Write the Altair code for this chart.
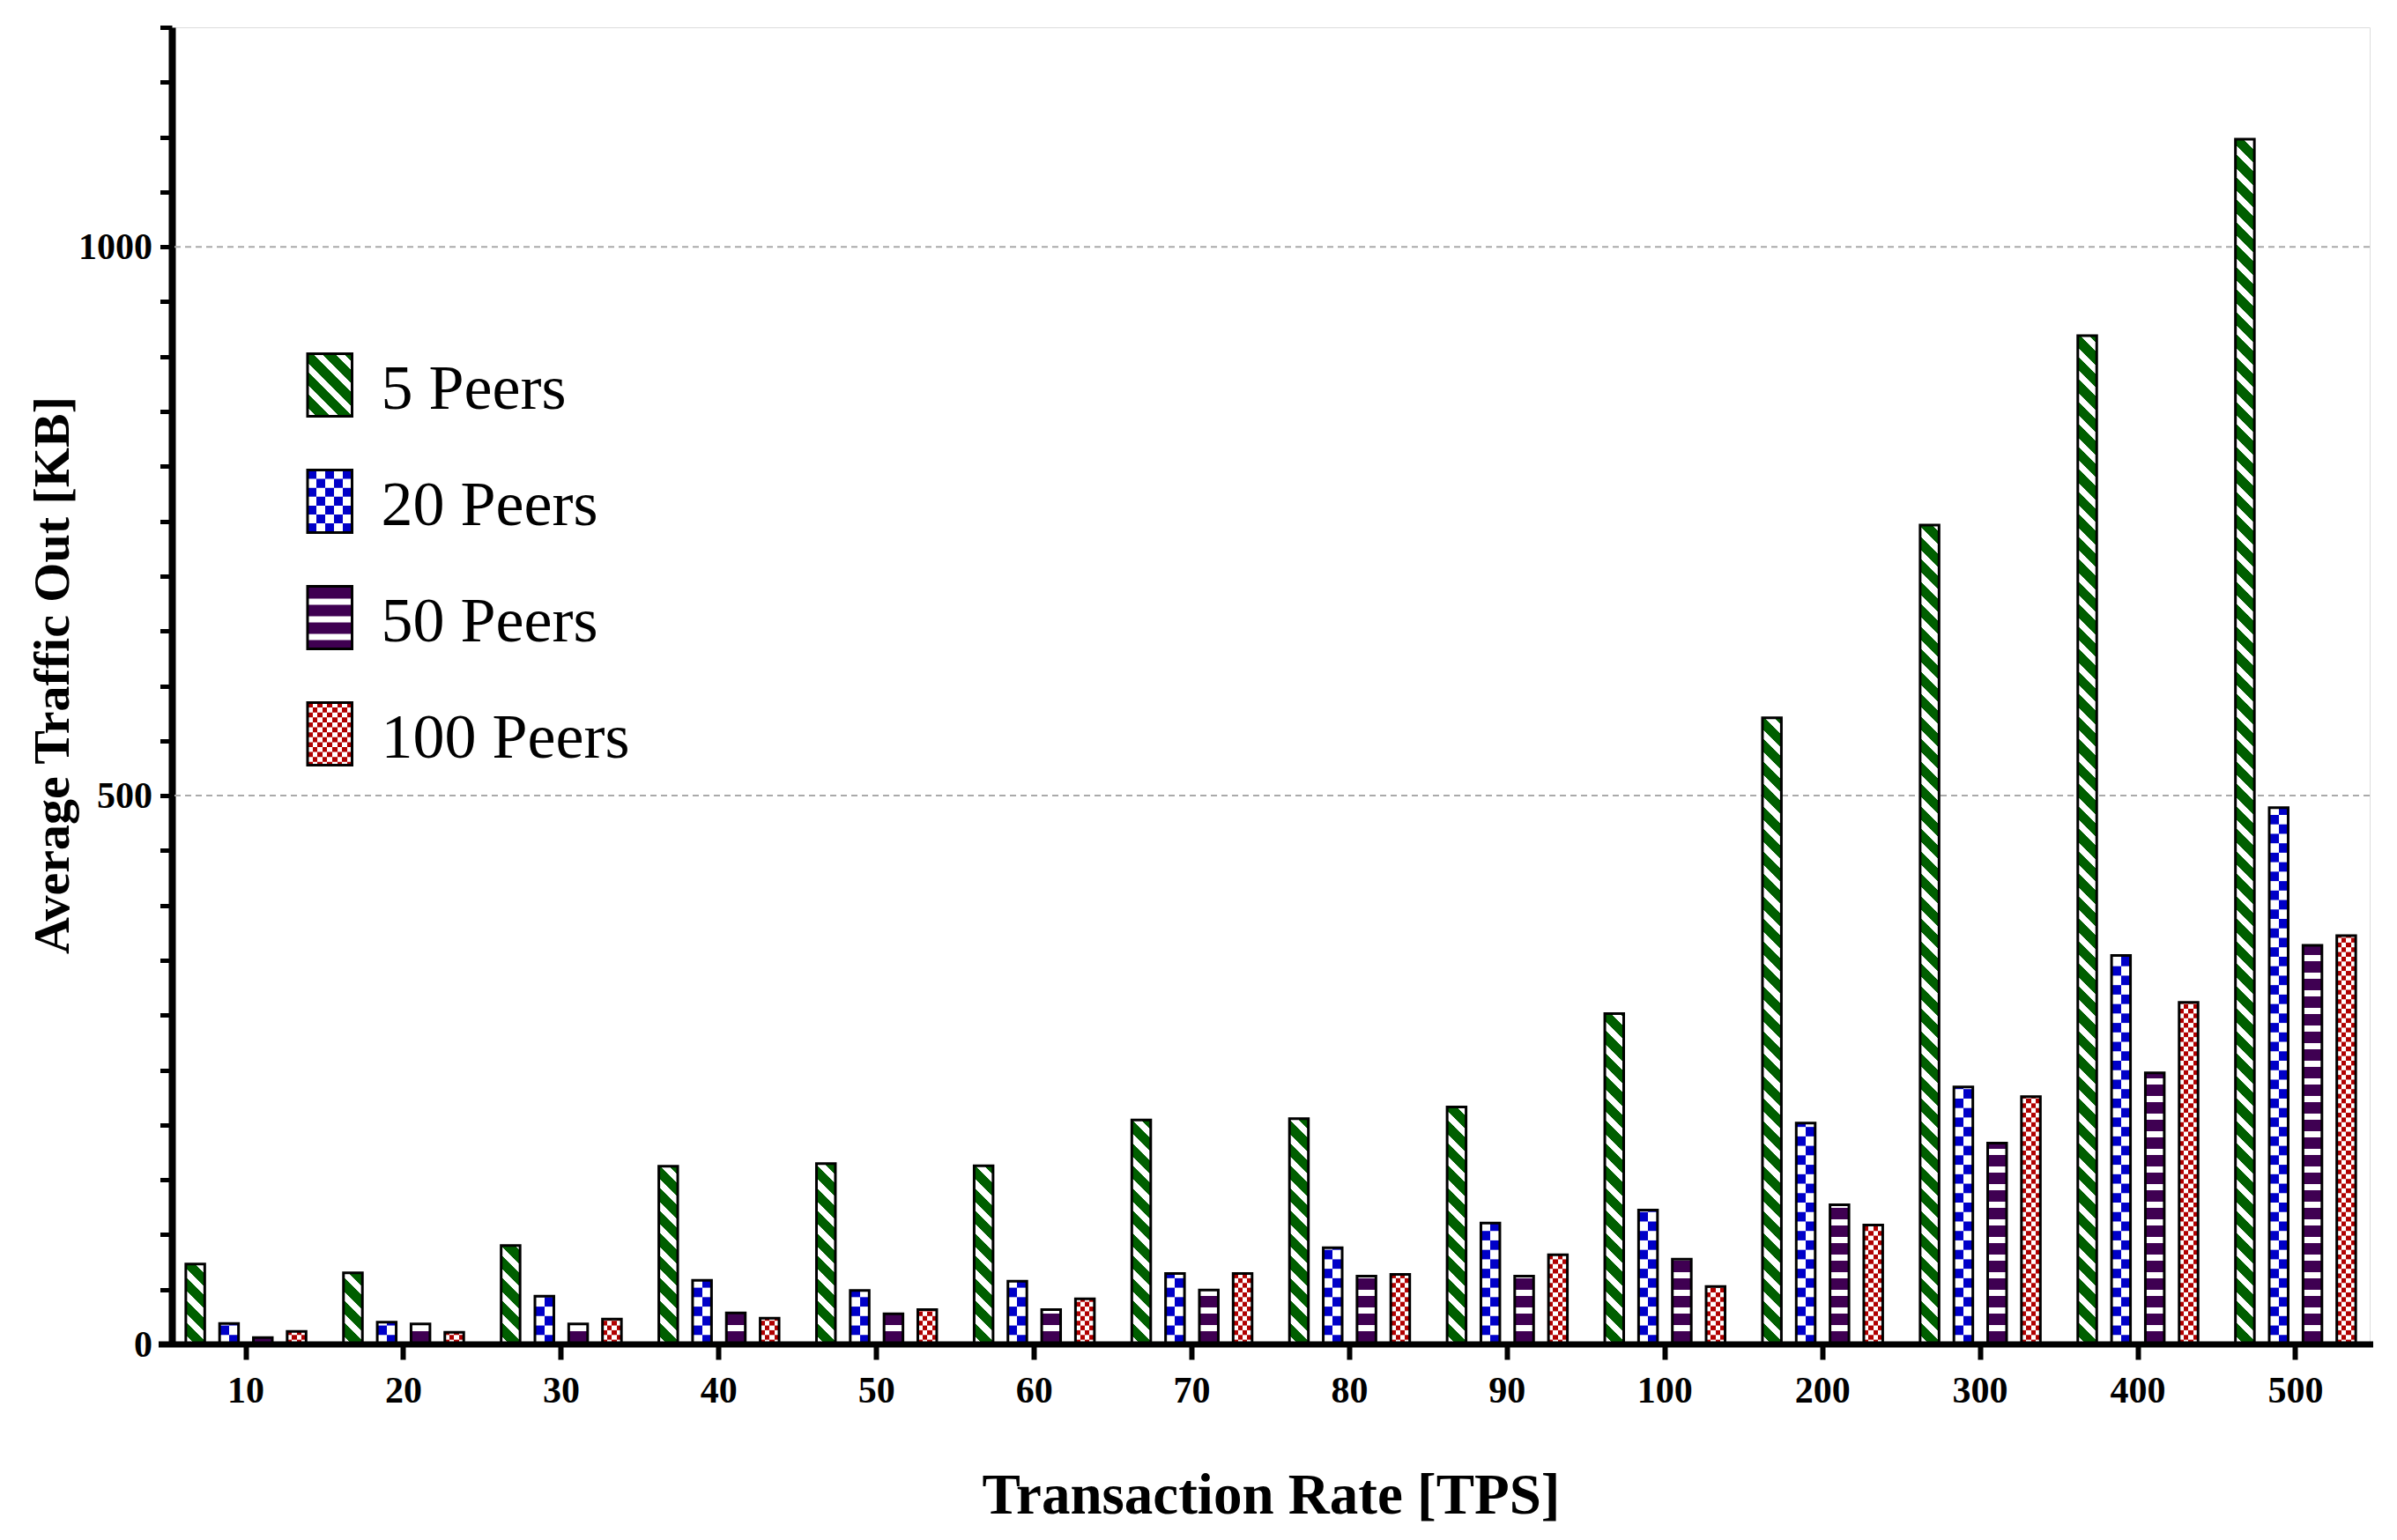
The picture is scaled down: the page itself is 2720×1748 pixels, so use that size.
import math
import altair as alt

# ---------------- data ----------------
tps = ["10", "20", "30", "40", "50", "60", "70", "80", "90", "100", "200", "300", "400", "500"]
series = ["5 Peers", "20 Peers", "50 Peers", "100 Peers"]
peers5 = [73.3, 65.3, 90.2, 162.4, 164.8, 162.7, 204.4, 205.7, 216.4, 301.5, 570.9, 746.5, 919.0, 1098.0]
peers20 = [19.0, 20.3, 43.9, 58.3, 49.2, 57.5, 64.7, 88.0, 110.5, 122.5, 201.6, 234.6, 354.3, 489.0]
peers50 = [6.2, 18.7, 18.7, 28.6, 27.8, 31.8, 49.5, 62.3, 62.3, 77.6, 127.2, 183.5, 247.4, 363.6]
peers100 = [11.8, 11.0, 23.0, 23.8, 31.8, 41.5, 64.7, 63.9, 81.6, 52.7, 108.7, 225.8, 311.6, 372.4]
grid_values = [500, 1000]
y_ticks = list(range(0, 1201, 50))

GREEN, BLUE, PURPLE, RED, WHITE = "#005f00", "#0000c8", "#3f0052", "#b00000", "#ffffff"

# ---------------- layout ----------------
W, H = 2494, 1495
Y_MAX = 1200
PPU = H / Y_MAX
P_IN, P_OUT = 0.2, 0.07
O_IN, O_OUT = 0.44, 0.087
step = W / (len(tps) - P_IN + 2 * P_OUT)
band = step * (1 - P_IN)
ostep = band / (len(series) - O_IN + 2 * O_OUT)
BW = ostep * (1 - O_IN)

DIAG_PERIOD = 25.5   # px, vertical period of diagonal stripes
DIAG_WHITE = 0.4
BLUE_CELL = BW / 2
RED_CELL = BW / 4
PUR_PERIOD = 20.0
PUR_WHITE = 7.0
FONT = "Liberation Serif"


def lin(stops, x1, y1, x2, y2):
    return {"gradient": "linear", "x1": x1, "y1": y1, "x2": x2, "y2": y2, "stops": stops}


def band_stops(length, period, frac, c_on, c_off, phase=0.0):
    stops = []
    k = math.floor(-phase / period) - 1
    q = k * period + phase
    while q < length:
        for s, e, col in ((q, q + frac * period, c_on), (q + frac * period, q + period, c_off)):
            s2, e2 = max(s, 0.0), min(e, length)
            if e2 > s2:
                stops.append({"offset": round(s2 / length, 5), "color": col})
                stops.append({"offset": round(e2 / length, 5), "color": col})
        q += period
    return stops


def diag_fill(w, h, color):
    a = 1.0
    L = a * w + h
    c = L / (a * a * w * w + h * h)
    stops = band_stops(L, DIAG_PERIOD, DIAG_WHITE, WHITE, color)
    return lin(stops, 0, 1, c * a * w, 1 - c * h)


def column_fill(n, first, second):
    stops = []
    for i in range(n):
        col = first if i % 2 == 0 else second
        stops += [{"offset": round(i / n, 5), "color": col}, {"offset": round((i + 1) / n, 5), "color": col}]
    return lin(stops, 0, 0, 1, 0)


records = []
for s_name, vals in zip(series, [peers5, peers20, peers50, peers100]):
    for t, v in zip(tps, vals):
        if s_name == "5 Peers":
            f = diag_fill(BW, v * PPU, GREEN)
        elif s_name == "20 Peers":
            f = column_fill(2, WHITE, BLUE)
        elif s_name == "50 Peers":
            f = PURPLE
        else:
            f = column_fill(4, RED, WHITE)
        records.append({"tps": t, "series": s_name, "kb": v, "fill": f})

bar_data = alt.Data(values=records)

# ---------------- scales / axes ----------------
x_scale = alt.Scale(domain=tps, paddingInner=P_IN, paddingOuter=P_OUT)
xo_scale = alt.Scale(domain=series, paddingInner=O_IN, paddingOuter=O_OUT)
y_scale = alt.Scale(domain=[0, Y_MAX], nice=False, zero=True)

x_axis = alt.Axis(
    title="Transaction Rate [TPS]", domain=False, grid=False,
    ticks=True, tickColor="black", tickWidth=6, tickSize=17,
    labelFont=FONT, labelFontWeight="bold", labelFontSize=42, labelColor="black",
    labelPadding=15, labelAngle=0, labelOverlap=False,
    titleFont=FONT, titleFontWeight="bold", titleFontSize=65, titleColor="black",
    titleX=W / 2, titleY=191, titleBaseline="alphabetic", titleAlign="center",
)
y_axis = alt.Axis(
    title="Average Traffic Out [KB]", values=y_ticks, format="d",
    labelExpr="datum.value % 500 === 0 ? datum.label : ''",
    domain=True, domainColor="black", domainWidth=8, grid=False,
    ticks=True, tickColor="black", tickWidth=5, tickSize=13.5,
    labelFont=FONT, labelFontWeight="bold", labelFontSize=42, labelColor="black",
    labelPadding=9, labelOverlap=False,
    titleFont=FONT, titleFontWeight="bold", titleFontSize=58, titleColor="black",
    titleX=-118, titleY=735, titleAngle=270, titleBaseline="alphabetic", titleAlign="center",
)

X = alt.X("tps:N", scale=x_scale, axis=x_axis, sort=tps)
XO = alt.XOffset("series:N", scale=xo_scale)


def Y(field):
    return alt.Y(field, type="quantitative", scale=y_scale, axis=y_axis)


# ---------------- layers ----------------
grid = alt.Chart(alt.Data(values=[{"g": g} for g in grid_values])).mark_rule(
    stroke="#aaaaaa", strokeWidth=2, strokeDash=[7, 5]
).encode(y=Y("g"))

base = alt.Chart(bar_data).mark_bar(strokeWidth=0).encode(
    x=X, xOffset=XO, y=Y("kb"), fill=alt.Fill("fill:N", scale=None)
)


def checker_rows(name, cell_px, fill):
    cu = cell_px / PPU
    return alt.Chart(bar_data).transform_filter(
        alt.datum.series == name
    ).transform_calculate(
        rows=f"sequence({cu}, datum.kb, {2 * cu})"
    ).transform_flatten(["rows"]).transform_calculate(
        r2=f"min(datum.rows + {cu}, datum.kb)"
    ).mark_bar(strokeWidth=0, fill=fill).encode(
        x=X, xOffset=XO, y=Y("rows"), y2="r2:Q"
    )


blue_rows = checker_rows("20 Peers", BLUE_CELL, column_fill(2, BLUE, WHITE))
red_rows = checker_rows("100 Peers", RED_CELL, column_fill(4, WHITE, RED))

pu, wu, ph = PUR_PERIOD / PPU, PUR_WHITE / PPU, -5.0 / PPU
purple_rows = alt.Chart(bar_data).transform_filter(
    alt.datum.series == "50 Peers"
).transform_calculate(
    rows=f"sequence({ph}, datum.kb, {pu})"
).transform_flatten(["rows"]).transform_calculate(
    r1="max(datum.rows, 0)", r2=f"min(datum.rows + {wu}, datum.kb)"
).transform_filter("datum.r2 > datum.r1").mark_bar(strokeWidth=0, fill=WHITE).encode(
    x=X, xOffset=XO, y=Y("r1"), y2="r2:Q"
)

outline = alt.Chart(bar_data).mark_bar(fillOpacity=0, stroke="black", strokeWidth=3).encode(
    x=X, xOffset=XO, y=Y("kb")
)

x_line = alt.Chart(alt.Data(values=[{}])).mark_rule(stroke="black", strokeWidth=7).encode(
    x=alt.value(-15), x2=alt.value(W + 4), y=alt.value(H)
)

# ---------------- legend ----------------
LX0, LX1 = 154, 204.5
LY0, LDY, LH = 370.5, 132, 71
LW = LX1 - LX0
leg_fills = {
    "5 Peers": diag_fill(LW, LH, GREEN),
    "20 Peers": column_fill(5, BLUE, WHITE),
    "50 Peers": PURPLE,
    "100 Peers": column_fill(9, RED, WHITE),
}
leg_data = alt.Data(values=[{"series": s, "i": i, "lfill": leg_fills[s]} for i, s in enumerate(series)])


def leg_chart():
    return alt.Chart(leg_data).transform_calculate(
        top=f"{LY0} + datum.i * {LDY}", bot=f"{LY0} + datum.i * {LDY} + {LH}"
    )


leg_base = leg_chart().mark_rect(strokeWidth=0).encode(
    x=alt.value(LX0), x2=alt.value(LX1),
    y=alt.Y("top:Q", scale=None), y2="bot:Q",
    fill=alt.Fill("lfill:N", scale=None),
)


def leg_rows(name, start, period, size, fill):
    return leg_chart().transform_filter(alt.datum.series == name).transform_calculate(
        rows=f"sequence(datum.top + {start}, datum.bot, {period})"
    ).transform_flatten(["rows"]).transform_calculate(
        r2=f"min(datum.rows + {size}, datum.bot)"
    ).mark_rect(strokeWidth=0, fill=fill).encode(
        x=alt.value(LX0), x2=alt.value(LX1),
        y=alt.Y("rows:Q", scale=None), y2="r2:Q",
    )


lb = LW / 5
lr = LW / 9
leg_blue = leg_rows("20 Peers", lb, 2 * lb, lb, column_fill(5, WHITE, BLUE))
leg_red = leg_rows("100 Peers", lr, 2 * lr, lr, column_fill(9, WHITE, RED))
leg_pur = leg_rows("50 Peers", 14, PUR_PERIOD, PUR_WHITE, WHITE)

leg_outline = leg_chart().mark_rect(fillOpacity=0, stroke="black", strokeWidth=3).encode(
    x=alt.value(LX0), x2=alt.value(LX1),
    y=alt.Y("top:Q", scale=None), y2="bot:Q",
)

leg_text = leg_chart().transform_calculate(
    ty="datum.top + 62.5"
).mark_text(font=FONT, fontSize=72, align="left", baseline="alphabetic", color="black").encode(
    x=alt.value(237.5), y=alt.Y("ty:Q", scale=None), text="series:N"
)

chart = alt.layer(
    grid, base, blue_rows, red_rows, purple_rows, outline, x_line,
    leg_base, leg_blue, leg_red, leg_pur, leg_outline, leg_text,
).properties(
    width=W, height=H,
    autosize=alt.AutoSizeParams(type="none"),
    padding={"left": 187, "top": 23, "right": 23, "bottom": 214},
).configure_view(strokeWidth=0).configure(background="white")

chart.save("out.html", embed_options={"renderer": "svg", "actions": False})
